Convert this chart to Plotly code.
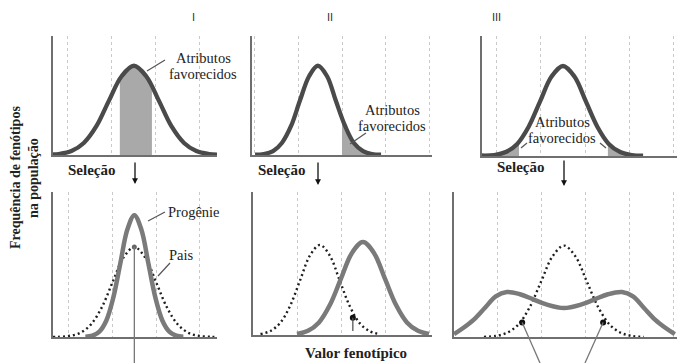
import plotly.graph_objects as go

W, H = 686, 363

# ---------------- data (phenotype value, relative frequency) ----------------
grid_ticks = [0, 1, 2, 3, 4]
panel_labels = ["I", "II", "III"]

# Top row: parent population with favoured traits
top1_x = [-0.34, -0.21, 0.08, 0.36, 0.65, 0.93, 1.22, 1.5, 1.78, 2.07, 2.35, 2.64, 2.92, 3.21, 3.39]
top1_y = [0.004, 0.008, 0.033, 0.101, 0.244, 0.455, 0.662, 0.75, 0.662, 0.455, 0.244, 0.101, 0.033, 0.008, 0.003]
top1_shade_x = [1.18, 1.22, 1.36, 1.5, 1.64, 1.78, 1.91]
top1_shade_y = [0.64, 0.66, 0.73, 0.75, 0.73, 0.66, 0.58]

top2_x = [0.02, 0.22, 0.43, 0.63, 0.84, 1.04, 1.25, 1.45, 1.66, 1.86, 2.07, 2.27, 2.48, 2.68, 2.89]
top2_y = [0.002, 0.008, 0.033, 0.101, 0.244, 0.455, 0.662, 0.75, 0.662, 0.455, 0.244, 0.101, 0.033, 0.008, 0.002]
top2_shade_x = [2.0, 2.07, 2.27, 2.48, 2.68, 2.89]
top2_shade_y = [0.30, 0.244, 0.101, 0.033, 0.008, 0.002]

top3_x = [-0.34, -0.06, 0.2, 0.46, 0.72, 0.98, 1.24, 1.5, 1.76, 2.02, 2.28, 2.54, 2.8, 3.06, 3.32]
top3_y = [0.004, 0.008, 0.033, 0.101, 0.244, 0.455, 0.662, 0.75, 0.662, 0.455, 0.244, 0.101, 0.033, 0.008, 0.002]
top3_shadeL_x = [-0.34, -0.06, 0.2, 0.46, 0.5]
top3_shadeL_y = [0.004, 0.008, 0.033, 0.101, 0.119]
top3_shadeR_x = [2.52, 2.54, 2.8, 3.06, 3.32]
top3_shadeR_y = [0.11, 0.101, 0.033, 0.008, 0.002]

# Bottom row: parents (dotted) and progeny (solid)
bot1_prog_x = [0.38, 0.54, 0.70, 0.86, 1.02, 1.18, 1.34, 1.5, 1.66, 1.82, 1.98, 2.14, 2.30, 2.46, 2.62]
bot1_prog_y = [0.002, 0.009, 0.037, 0.114, 0.273, 0.509, 0.741, 0.84, 0.741, 0.509, 0.273, 0.114, 0.037, 0.009, 0.002]
bot1_pais_x = [-0.36, -0.25, 0.0, 0.25, 0.5, 0.75, 1.0, 1.25, 1.5, 1.75, 2.0, 2.25, 2.5, 2.75, 3.0, 3.25, 3.39]
bot1_pais_y = [0.001, 0.001, 0.007, 0.027, 0.084, 0.201, 0.376, 0.547, 0.62, 0.547, 0.376, 0.201, 0.084, 0.027, 0.007, 0.001, 0.001]
bot1_mark = (1.5, 0.62)

bot2_par_x = [0.15, 0.375, 0.6, 0.825, 1.05, 1.275, 1.5, 1.725, 1.95, 2.175, 2.4, 2.625, 2.85]
bot2_par_y = [0.007, 0.028, 0.085, 0.205, 0.382, 0.556, 0.63, 0.556, 0.382, 0.205, 0.085, 0.028, 0.007]
bot2_off_x = [0.98, 1.23, 1.48, 1.73, 1.98, 2.23, 2.48, 2.73, 2.98, 3.23, 3.48, 3.73, 3.98]
bot2_off_y = [0.007, 0.029, 0.088, 0.211, 0.394, 0.574, 0.65, 0.574, 0.394, 0.211, 0.088, 0.029, 0.007]
bot2_mark = (2.25, 0.12)

bot3_par_x = [-0.32, -0.06, 0.2, 0.46, 0.72, 0.98, 1.24, 1.5, 1.76, 2.02, 2.28, 2.54, 2.8, 3.06, 3.32]
bot3_par_y = [0.001, 0.007, 0.028, 0.085, 0.205, 0.382, 0.556, 0.63, 0.556, 0.382, 0.205, 0.085, 0.028, 0.007, 0.001]
bot3_off_x = [-1.0, -0.8, -0.55, -0.3, -0.05, 0.2, 0.5, 0.8, 1.1, 1.5, 1.9, 2.2, 2.5, 2.82, 3.07, 3.32, 3.57, 3.82, 4.02]
bot3_off_y = [0.02, 0.06, 0.12, 0.20, 0.28, 0.31, 0.295, 0.26, 0.225, 0.20, 0.225, 0.26, 0.295, 0.31, 0.28, 0.20, 0.12, 0.06, 0.02]
bot3_marks_x = [0.55, 2.39]
bot3_marks_y = [0.10, 0.10]

# ---------------- layout geometry (pixels) ----------------
panels = {
    1: (53, 217, 36, 155, [-0.34, 3.39]),
    2: (252, 432, 36, 155, [-0.05, 4.05]),
    3: (482, 677, 36, 156, [-0.34, 4.09]),
    4: (53, 217, 192, 337, [-0.36, 3.39]),
    5: (253, 432, 192, 335, [-0.02, 4.05]),
    6: (454, 677, 192, 337, [-1.0, 4.07]),
}


def paper_xy(p, x, y):
    px0, px1, py0, py1, xr = panels[p]
    fx = (x - xr[0]) / (xr[1] - xr[0])
    X = (px0 + fx * (px1 - px0)) / W
    Y = 1 - (py1 - y * (py1 - py0)) / H
    return X, Y


TOP_CURVE = dict(color="#4a4a4a", width=4.3, shape="spline")
BOT_CURVE = dict(color="#7a7a7a", width=4.5, shape="spline")
DOTTED = dict(color="#1e1e1e", width=2.4, dash="2px,3px", shape="spline")
SHADE = "#a9a9a9"

fig = go.Figure()


def ax(p):
    return ("x" if p == 1 else f"x{p}"), ("y" if p == 1 else f"y{p}")


def add_line(p, xs, ys, line):
    xa, ya = ax(p)
    fig.add_trace(go.Scatter(x=xs, y=ys, mode="lines", line=line, xaxis=xa, yaxis=ya,
                             hoverinfo="skip", showlegend=False))


def add_shade(p, xs, ys):
    xa, ya = ax(p)
    fig.add_trace(go.Scatter(x=xs, y=ys, mode="lines", line=dict(width=0), fill="tozeroy",
                             fillcolor=SHADE, xaxis=xa, yaxis=ya, hoverinfo="skip", showlegend=False))


def add_marks(p, xs, ys, color="#111", size=6):
    xa, ya = ax(p)
    fig.add_trace(go.Scatter(x=xs, y=ys, mode="markers", marker=dict(color=color, size=size),
                             xaxis=xa, yaxis=ya, cliponaxis=False, hoverinfo="skip", showlegend=False))


add_shade(1, top1_shade_x, top1_shade_y)
add_line(1, top1_x, top1_y, TOP_CURVE)
add_shade(2, top2_shade_x, top2_shade_y)
add_line(2, top2_x, top2_y, TOP_CURVE)
add_shade(3, top3_shadeL_x, top3_shadeL_y)
add_shade(3, top3_shadeR_x, top3_shadeR_y)
add_line(3, top3_x, top3_y, TOP_CURVE)

add_line(4, bot1_pais_x, bot1_pais_y, DOTTED)
add_line(4, bot1_prog_x, bot1_prog_y, BOT_CURVE)
add_marks(4, [bot1_mark[0]], [bot1_mark[1]], color="#666", size=5)

add_line(5, bot2_par_x, bot2_par_y, DOTTED)
add_line(5, bot2_off_x, bot2_off_y, BOT_CURVE)
add_marks(5, [bot2_mark[0]], [bot2_mark[1]])

add_line(6, bot3_par_x, bot3_par_y, DOTTED)
add_line(6, bot3_off_x, bot3_off_y, BOT_CURVE)
add_marks(6, bot3_marks_x, bot3_marks_y)

layout = dict(width=W, height=H, margin=dict(l=0, r=0, t=0, b=0),
              paper_bgcolor="white", plot_bgcolor="white", showlegend=False)
for p, (px0, px1, py0, py1, xr) in panels.items():
    xa, ya = ax(p)
    xkey = "xaxis" if p == 1 else f"xaxis{p}"
    ykey = "yaxis" if p == 1 else f"yaxis{p}"
    layout[xkey] = dict(domain=[px0 / W, px1 / W], range=xr, anchor=ya,
                        showline=True, linecolor="#6f6f6f", linewidth=1.6,
                        showgrid=True, gridcolor="#c9c9c9", griddash="dot", gridwidth=1,
                        tickvals=grid_ticks, showticklabels=False, ticks="",
                        zeroline=False, fixedrange=True)
    layout[ykey] = dict(domain=[1 - py1 / H, 1 - py0 / H], range=[0, 1], anchor=xa,
                        showline=True, linecolor="#6f6f6f", linewidth=1.6,
                        showgrid=False, tickvals=[], showticklabels=False, ticks="",
                        zeroline=False, fixedrange=True)
fig.update_layout(**layout)

SERIF = "Liberation Serif, Times New Roman, serif"
ann = []


def text(pxx, pyy, t, size=14.5, bold=False, xanchor="center", angle=0, color="#222", family=SERIF):
    ann.append(dict(x=pxx / W, y=1 - pyy / H, xref="paper", yref="paper", text=(f"<b>{t}</b>" if bold else t),
                    showarrow=False, xanchor=xanchor, yanchor="middle", textangle=angle,
                    font=dict(family=family, size=size, color=color)))


# panel headings
for lbl, px in zip(panel_labels, [193, 330, 496]):
    text(px, 17, lbl, size=11, family="Liberation Sans, Arial, sans-serif", color="#333")

# y title
text(15, 178, "Frequência de fenótipos", size=14, bold=True, angle=-90)
text(33, 178, "na população", size=14, bold=True, angle=-90)

# favoured traits labels (two lines each)
for cx, cy in [(203, 58), (392, 110), (562, 122)]:
    text(cx, cy, "Atributos", size=14.5)
    text(cx, cy + 15.5, "favorecidos", size=14.5)

# selection labels
for px, py in [(91, 170), (281, 170), (520, 167)]:
    text(px, py, "Seleção", size=15, bold=True)

text(166, 212, "Progênie", size=14.5, xanchor="left")
text(167, 255, "Pais", size=14.5, xanchor="left")
text(356, 353, "Valor fenotípico", size=15, bold=True)

# selection arrows
for px, y0, y1 in [(135, 161, 184), (318, 161, 185), (564, 159, 186)]:
    ann.append(dict(x=px / W, y=1 - y1 / H, xref="paper", yref="paper", ax=0, ay=-(y1 - y0),
                    axref="pixel", ayref="pixel", text="", showarrow=True, arrowhead=2,
                    arrowsize=0.9, arrowwidth=1.3, arrowcolor="#111"))
fig.update_layout(annotations=ann)

shapes = []


def seg(x0, y0, x1, y1, color="#555", width=1.2):
    shapes.append(dict(type="line", xref="paper", yref="paper", x0=x0, y0=y0, x1=x1, y1=y1,
                       line=dict(color=color, width=width)))


def pxseg(a, b, c, d, **kw):
    seg(a / W, 1 - b / H, c / W, 1 - d / H, **kw)


# leader lines
pxseg(147, 71, 165, 60)
pxseg(350, 144, 366, 133)
pxseg(521, 148, 527, 143)
pxseg(600, 143, 606, 148)
pxseg(148, 221, 165, 212)
pxseg(158, 276, 170, 263)

# pointer lines from data points
x0, y0 = paper_xy(4, bot1_mark[0], bot1_mark[1])
seg(x0, y0, x0, 0, color="#777", width=1.3)
x0, y0 = paper_xy(5, bot2_mark[0], bot2_mark[1])
x1, y1 = paper_xy(5, bot2_mark[0], 0)
seg(x0, y0, x1, y1 + 4 / H, color="#555", width=1.3)
for mx, my, endpx in zip(bot3_marks_x, bot3_marks_y, [540, 585]):
    x0, y0 = paper_xy(6, mx, my)
    seg(x0, y0, endpx / W, 0, color="#777", width=1.3)

fig.update_layout(shapes=shapes)
fig.write_html("out.html",
               config={"displayModeBar": False, "staticPlot": True},
               post_script="document.body.style.margin='0';document.body.style.overflow='hidden';")
